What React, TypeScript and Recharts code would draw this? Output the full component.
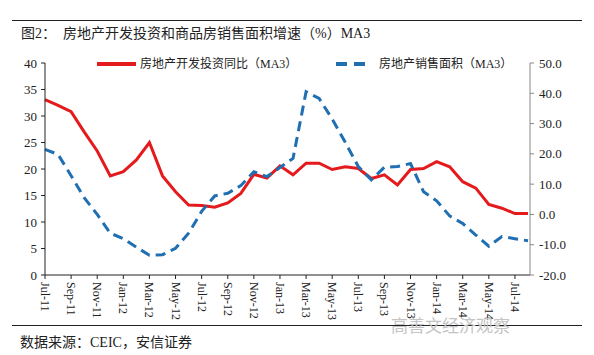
import { CartesianGrid, Line, LineChart, XAxis, YAxis } from "recharts";

const months = [
  "Jul-11", "Aug-11", "Sep-11", "Oct-11", "Nov-11", "Dec-11",
  "Jan-12", "Feb-12", "Mar-12", "Apr-12", "May-12", "Jun-12",
  "Jul-12", "Aug-12", "Sep-12", "Oct-12", "Nov-12", "Dec-12",
  "Jan-13", "Feb-13", "Mar-13", "Apr-13", "May-13", "Jun-13",
  "Jul-13", "Aug-13", "Sep-13", "Oct-13", "Nov-13", "Dec-13",
  "Jan-14", "Feb-14", "Mar-14", "Apr-14", "May-14", "Jun-14",
  "Jul-14", "Aug-14",
];

// 房地产开发投资同比（MA3），左轴
const investYoY = [
  33.1, 32.0, 30.8, 27.0, 23.4, 18.7,
  19.5, 21.7, 25.0, 18.7, 15.7, 13.2,
  13.1, 12.8, 13.6, 15.4, 19.0, 18.3,
  20.6, 18.9, 21.1, 21.1, 19.9, 20.4,
  20.1, 18.2, 18.9, 17.0, 19.9, 20.1,
  21.4, 20.4, 17.6, 16.4, 13.3, 12.6,
  11.6, 11.6,
];

// 房地产销售面积（MA3），右轴
const salesArea = [
  21.5, 19.8, 12.8, 5.5, 0.0, -6.2,
  -8.0, -10.8, -13.5, -13.3, -11.2, -6.2,
  1.0, 6.1, 7.0, 9.5, 14.1, 12.5,
  15.5, 18.5, 40.5, 38.3, 31.5, 23.8,
  15.8, 11.4, 15.6, 15.8, 16.8, 7.5,
  4.5, -0.5, -3.0, -6.8, -10.5, -7.3,
  -8.0, -8.7,
];

const leftTicks = [0, 5, 10, 15, 20, 25, 30, 35, 40];
const rightTicks = [-20, -10, 0, 10, 20, 30, 40, 50];

const data = months.map((m, i) => ({ m, invest: investYoY[i], sales: salesArea[i] }));

const FONT = '"Times New Roman", "Liberation Serif", "Noto Sans CJK SC", serif';
const RED = "#e41a1c";
const BLUE = "#1f6fb2";

function MonthTick({ x, y, payload }: any) {
  return (
    <g transform={`translate(${x},${y})`}>
      <text
        transform="rotate(90)"
        textAnchor="start"
        dominantBaseline="central"
        fontSize={12}
        fontFamily={FONT}
        fill="#222"
      >
        {payload.value}
      </text>
    </g>
  );
}

export default function App() {
  return (
    <div
      style={{
        position: "absolute",
        left: 0,
        top: 0,
        width: 594,
        height: 355,
        background: "#fff",
        fontFamily: FONT,
        color: "#222",
      }}
    >
      <div style={{ position: "absolute", left: 12, right: 12, top: 20, borderTop: "1px solid #222" }} />
      <div style={{ position: "absolute", left: 21, top: 22, fontSize: 14, whiteSpace: "pre" }}>
        图2：  房地产开发投资和商品房销售面积增速（%）MA3
      </div>

      <LineChart width={594} height={355} data={data} margin={{ top: 63, right: 8, bottom: 35, left: 8 }}>
        <CartesianGrid stroke="none" />
        <XAxis
          dataKey="m"
          interval={1}
          height={45}
          tickSize={4}
          tickMargin={3}
          tick={<MonthTick />}
          stroke="#222"
          padding={{ left: 0, right: 2 }}
        />
        <YAxis
          yAxisId="left"
          domain={[0, 40]}
          ticks={leftTicks}
          width={37}
          tickSize={4}
          tickMargin={4}
          stroke="#222"
          tick={{ fontSize: 13, fontFamily: FONT, fill: "#222" }}
        />
        <YAxis
          yAxisId="right"
          orientation="right"
          domain={[-20, 50]}
          ticks={rightTicks}
          width={56}
          tickSize={4}
          tickMargin={5}
          stroke="#888"
          tickFormatter={(v: number) => v.toFixed(1)}
          tick={{ fontSize: 13, fontFamily: FONT, fill: "#222", textAnchor: "start" }}
        />
        <Line
          yAxisId="left"
          dataKey="invest"
          stroke={RED}
          strokeWidth={3}
          dot={false}
          isAnimationActive={false}
        />
        <Line
          yAxisId="right"
          dataKey="sales"
          stroke={BLUE}
          strokeWidth={3}
          strokeDasharray="10 6"
          dot={false}
          isAnimationActive={false}
        />
      </LineChart>

      <svg style={{ position: "absolute", left: 0, top: 56 }} width={594} height={16}>
        <line x1={97} y1={8} x2={136} y2={8} stroke={RED} strokeWidth={4} />
        <text x={140} y={8} dominantBaseline="central" fontSize={12} fontFamily={FONT} fill="#222">
          房地产开发投资同比（MA3）
        </text>
        <line x1={336} y1={8} x2={370} y2={8} stroke={BLUE} strokeWidth={4} strokeDasharray="11 7" />
        <text x={379} y={8} dominantBaseline="central" fontSize={12} fontFamily={FONT} fill="#222">
          房地产销售面积（MA3）
        </text>
      </svg>

      <div style={{ position: "absolute", left: 12, right: 12, top: 325, borderTop: "1px solid #222" }} />
      <div style={{ position: "absolute", left: 391, top: 312, fontSize: 17, color: "#c4c4c4", whiteSpace: "pre" }}>
        高善文经济观察
      </div>
      <div style={{ position: "absolute", left: 20, top: 331, fontSize: 14, whiteSpace: "pre" }}>
        数据来源：CEIC，安信证券
      </div>
    </div>
  );
}
